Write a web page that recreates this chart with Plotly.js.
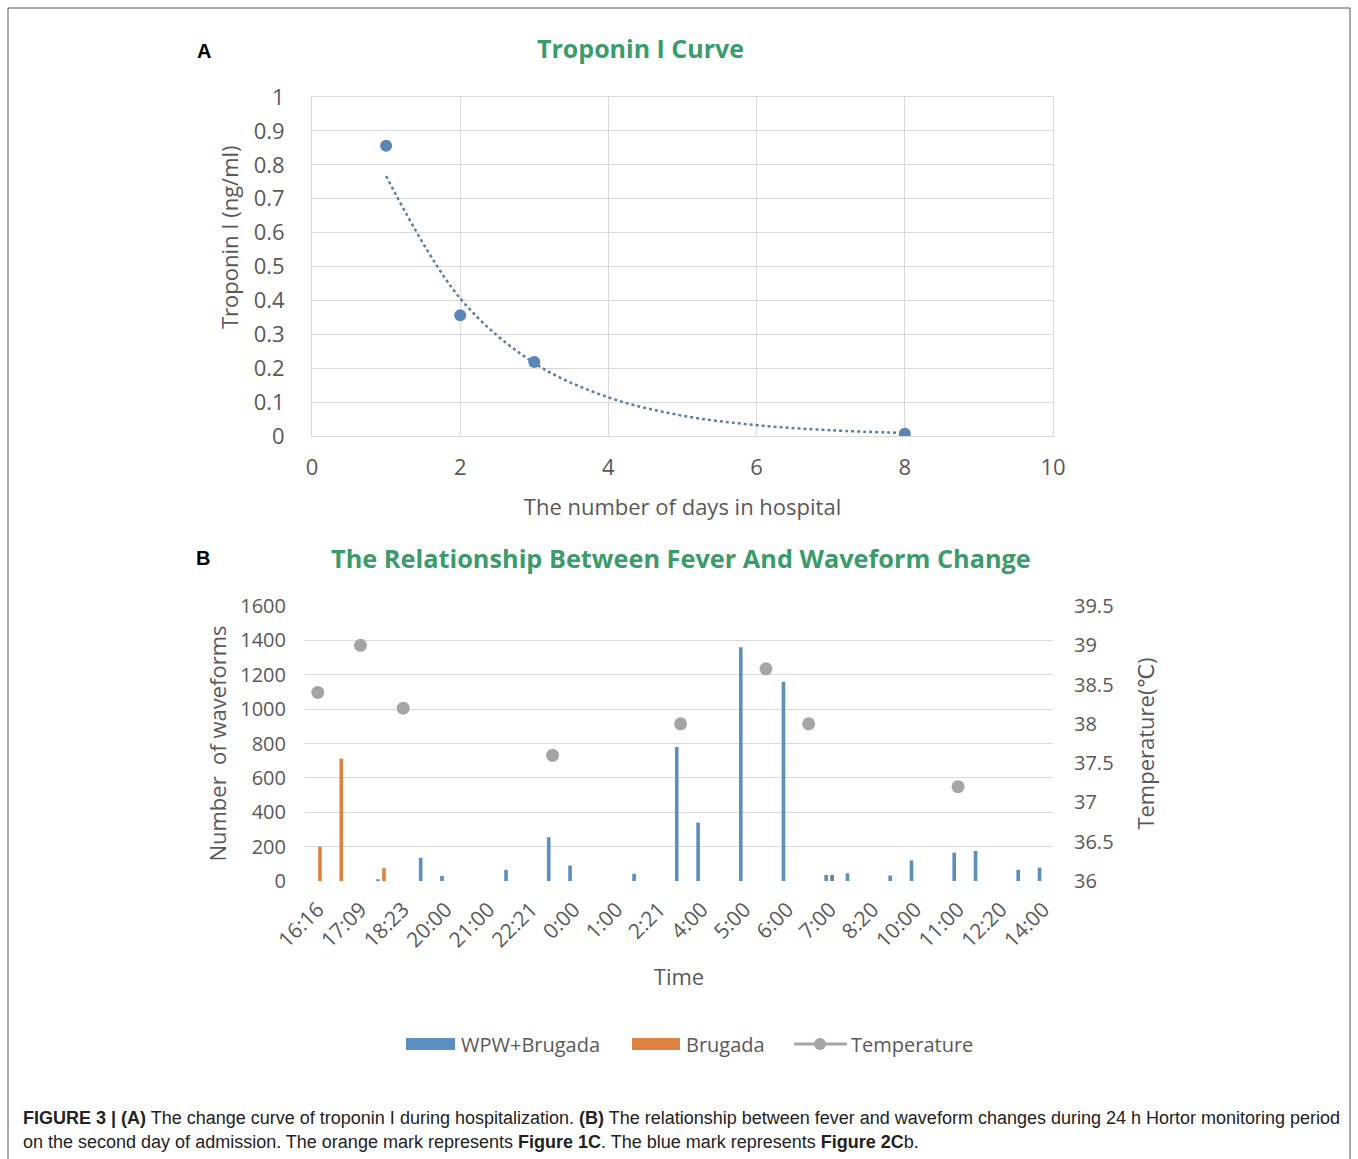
<!DOCTYPE html>
<html>
<head>
<meta charset="utf-8">
<script src="https://cdn.plot.ly/plotly-3.0.1.min.js"></script>
<style>
  html, body { margin: 0; padding: 0; background: #ffffff; }
  #chart { width: 1358px; height: 1159px; }
</style>
</head>
<body>
<div id="chart"></div>
<script>
// ---------- Panel A data ----------
const troponinDays = [1, 2, 3, 8];
const troponinValues = [0.856, 0.356, 0.218, 0.007];
// dotted trendline
const trendDays = [1, 2, 3, 4, 5, 6, 7, 8];
const trendValues = [0.767, 0.406, 0.215, 0.114, 0.060, 0.032, 0.017, 0.009];

// ---------- Panel B data ----------
// 35 time slots; every other slot is labelled
const timeLabels = ['16:16','17:09','18:23','20:00','21:00','22:21','0:00','1:00','2:21',
                    '4:00','5:00','6:00','7:00','8:20','10:00','11:00','12:20','14:00'];
const wpwBrugada = [null, null, null, 10, null, 135, 30, null, null, 65,
                    null, 255, 90, null, null, 42, null, 780, 340, null,
                    1360, null, 1160, null, 35, 45, null, 32, 120, null,
                    165, 175, null, 65, 78];
const brugada = [200, 712, null, 75, null, null, null, null, null, null,
                 null, null, null, null, null, null, null, null, null, null,
                 null, null, null, null, 35, null, null, null, null, null,
                 null, null, null, null, null];
const temperature = [38.4, null, 39.0, null, 38.2, null, null, null, null, null,
                     null, 37.6, null, null, null, null, null, 38.0, null, null,
                     null, 38.7, null, 38.0, null, null, null, null, null, null,
                     37.2, null, null, null, null];
const seriesNames = ['WPW+Brugada', 'Brugada', 'Temperature'];

const slots = wpwBrugada.map((_, i) => i);
const tickSlots = timeLabels.map((_, i) => 2 * i);

const W = 1358, H = 1159;
const px = v => v / W;
const py = v => 1 - v / H;

const GRAY = '#595959';
const GRID = '#d9d9d9';
const FONT = 'Open Sans, DejaVu Sans, sans-serif';
const GREEN = '#3a9b6b';
const BLUE = '#5b8fc2';
const ORANGE = '#dd8240';
const TGRAY = '#a5a5a5';

const brugadaColors = brugada.map((v, i) => i === 24 ? '#6a7f95' : ORANGE);

const traces = [
  {
    x: trendDays, y: trendValues, xaxis: 'x', yaxis: 'y',
    type: 'scatter', mode: 'lines', line: {shape: 'spline', dash: 'dot', width: 2.5, color: '#5d7fa3'},
    showlegend: false, hoverinfo: 'skip'
  },
  {
    x: troponinDays, y: troponinValues, xaxis: 'x', yaxis: 'y',
    type: 'scatter', mode: 'markers', marker: {size: 12, color: '#5a86b5'},
    showlegend: false
  },
  {
    name: seriesNames[0], x: slots, y: wpwBrugada, xaxis: 'x2', yaxis: 'y2',
    type: 'bar', width: 0.17, offset: -0.265, marker: {color: BLUE}
  },
  {
    name: seriesNames[1], x: slots, y: brugada, xaxis: 'x2', yaxis: 'y2',
    type: 'bar', width: 0.17, offset: 0.015, marker: {color: brugadaColors}
  },
  {
    name: seriesNames[2], x: slots, y: temperature, xaxis: 'x2', yaxis: 'y3',
    type: 'scatter', mode: 'lines+markers', connectgaps: false,
    line: {color: TGRAY, width: 3}, marker: {size: 13, color: TGRAY}
  }
];

const titleFont = {family: FONT, size: 22, color: GRAY};

// custom legend (wide swatches as in the original)
const legY = 1044;
const legendShapes = [
  {type: 'rect', xref: 'paper', yref: 'paper', x0: px(406), x1: px(455), y0: py(legY + 6), y1: py(legY - 6),
   fillcolor: BLUE, line: {width: 0}},
  {type: 'rect', xref: 'paper', yref: 'paper', x0: px(632), x1: px(680), y0: py(legY + 6), y1: py(legY - 6),
   fillcolor: ORANGE, line: {width: 0}},
  {type: 'line', xref: 'paper', yref: 'paper', x0: px(794), x1: px(847), y0: py(legY), y1: py(legY),
   line: {color: TGRAY, width: 3}},
  {type: 'circle', xref: 'paper', yref: 'paper', x0: px(814), x1: px(826), y0: py(legY + 6), y1: py(legY - 6),
   fillcolor: TGRAY, line: {width: 0}}
];
const legendText = [[459, seriesNames[0]], [684, seriesNames[1]], [849, seriesNames[2]]].map(([x, t]) => ({
  text: t, xref: 'paper', yref: 'paper', x: px(x), y: py(legY), xanchor: 'left', yanchor: 'middle',
  showarrow: false, font: {family: FONT, size: 20, color: GRAY}
}));

const captionFont = {family: 'Liberation Sans Narrow, Liberation Sans, Arial, sans-serif', size: 18, color: '#222'};
const captionLines = [
  [1118, '<b>FIGURE 3 | (A)</b> The change curve of troponin I during hospitalization. <b>(B)</b> The relationship between fever and waveform changes during 24 h Hortor monitoring period'],
  [1142, 'on the second day of admission. The orange mark represents <b>Figure 1C</b>. The blue mark represents <b>Figure 2C</b>b.']
].map(([y, t]) => ({
  text: t, xref: 'paper', yref: 'paper', x: px(21), y: py(y), xanchor: 'left', yanchor: 'middle',
  align: 'left', showarrow: false, font: captionFont
}));

const layout = {
  width: W, height: H, autosize: false,
  margin: {l: 0, r: 0, t: 0, b: 0},
  paper_bgcolor: '#ffffff', plot_bgcolor: '#ffffff',
  font: {family: FONT, color: GRAY},
  barmode: 'overlay',
  showlegend: false,
  xaxis: {
    domain: [px(312), px(1053)], anchor: 'y', range: [0, 10], dtick: 2,
    showgrid: true, gridcolor: GRID, showline: true, linecolor: GRID, mirror: true,
    zeroline: false, ticks: '', tickfont: {family: FONT, size: 22, color: GRAY},
    ticklabelstandoff: 12,
    title: {text: 'The number of days in hospital', font: titleFont, standoff: 19}
  },
  yaxis: {
    domain: [py(436), py(97)], anchor: 'x', range: [0, 1], dtick: 0.1,
    showgrid: true, gridcolor: GRID, showline: true, linecolor: GRID, mirror: true,
    zeroline: false, ticks: '', tickfont: {family: FONT, size: 22, color: GRAY},
    ticklabelstandoff: 22
  },
  xaxis2: {
    domain: [px(305), px(1053)], anchor: 'y2', range: [-0.6, 34.45],
    tickmode: 'array', tickvals: tickSlots, ticktext: timeLabels, tickangle: -45,
    showgrid: false, zeroline: false, showline: false, ticks: '',
    tickfont: {family: FONT, size: 21, color: GRAY}, ticklabelstandoff: 11,
    title: {text: 'Time', font: titleFont, standoff: 17}
  },
  yaxis2: {
    domain: [py(881), py(606)], anchor: 'x2', range: [0, 1600], dtick: 200,
    showgrid: true, gridcolor: GRID, zeroline: false, showline: false, ticks: '',
    tickfont: {family: FONT, size: 20, color: GRAY}, ticklabelstandoff: 18,
    title: {text: 'Number  of waveforms', font: titleFont, standoff: 7}
  },
  yaxis3: {
    overlaying: 'y2', side: 'right', anchor: 'x2', range: [36, 39.5], dtick: 0.5,
    showgrid: false, zeroline: false, showline: false, ticks: '',
    tickfont: {family: FONT, size: 20, color: GRAY}, ticklabelstandoff: 20,
    title: {text: 'Temperature(℃)', font: titleFont, standoff: 26}
  },
  annotations: [
    {text: 'Troponin I (ng/ml)', xref: 'paper', yref: 'paper', x: px(229), y: py(237),
     xanchor: 'center', yanchor: 'middle', textangle: -90, showarrow: false, font: titleFont},
    {text: '<b>A</b>', xref: 'paper', yref: 'paper', x: px(204), y: py(51),
     xanchor: 'center', yanchor: 'middle', showarrow: false,
     font: {family: 'Liberation Sans, Arial, sans-serif', size: 20, color: '#000'}},
    {text: '<b>B</b>', xref: 'paper', yref: 'paper', x: px(203), y: py(558),
     xanchor: 'center', yanchor: 'middle', showarrow: false,
     font: {family: 'Liberation Sans, Arial, sans-serif', size: 20, color: '#000'}},
    {text: '<b>Troponin I Curve</b>', xref: 'paper', yref: 'paper', x: px(640), y: py(48),
     xanchor: 'center', yanchor: 'middle', showarrow: false,
     font: {family: FONT, size: 25, color: GREEN}},
    {text: '<b>The Relationship Between Fever And Waveform Change</b>', xref: 'paper', yref: 'paper',
     x: px(681), y: py(558), xanchor: 'center', yanchor: 'middle', showarrow: false,
     font: {family: FONT, size: 25.3, color: GREEN}}
  ].concat(captionLines, legendText),
  shapes: [
    {type: 'rect', xref: 'paper', yref: 'paper', x0: px(8), x1: px(1350), y0: -0.02, y1: py(8),
     line: {color: '#555555', width: 1}, fillcolor: 'rgba(0,0,0,0)', layer: 'above'}
  ].concat(legendShapes)
};

Plotly.newPlot('chart', traces, layout, {staticPlot: true, displayModeBar: false});
</script>
</body>
</html>
